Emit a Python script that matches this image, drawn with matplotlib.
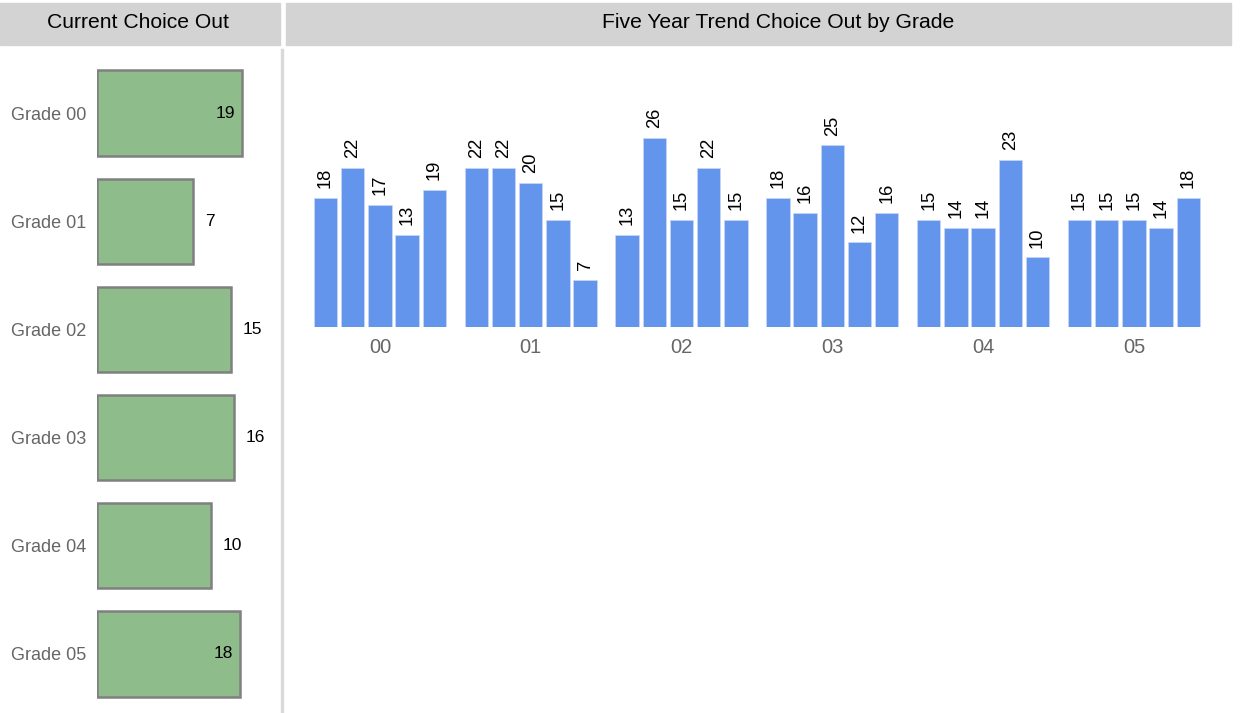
import matplotlib
matplotlib.use("Agg")
import matplotlib.pyplot as plt
from matplotlib.patches import Rectangle
from matplotlib.lines import Line2D
import numpy as np

plt.rcParams["font.family"] = ["Liberation Sans", "DejaVu Sans"]

# Data
grades = ["Grade 00", "Grade 01", "Grade 02", "Grade 03", "Grade 04", "Grade 05"]
current = [19, 7, 15, 16, 10, 18]

group_labels = ["00", "01", "02", "03", "04", "05"]
trend_00 = [18, 22, 17, 13, 19]
trend_01 = [22, 22, 20, 15, 7]
trend_02 = [13, 26, 15, 22, 15]
trend_03 = [18, 16, 25, 12, 16]
trend_04 = [15, 14, 14, 23, 10]
trend_05 = [15, 15, 15, 14, 18]
trend = [trend_00, trend_01, trend_02, trend_03, trend_04, trend_05]

W, H = 1245, 713
fig = plt.figure(figsize=(W / 100, H / 100), dpi=100)

def fx(px):
    return px / W

def fy(py):
    return 1 - py / H

# Header boxes
header_col = "#d3d3d3"
fig.patches.append(Rectangle((fx(0), fy(45)), fx(280), fy(3) - fy(45),
                             transform=fig.transFigure, color=header_col, zorder=0))
fig.patches.append(Rectangle((fx(286), fy(45)), fx(1231 - 286), fy(3) - fy(45),
                             transform=fig.transFigure, color=header_col, zorder=0))
fig.text(fx(138), fy(23), "Current Choice Out", ha="center", va="center", fontsize=15.2)
fig.text(fx(778), fy(23), "Five Year Trend Choice Out by Grade", ha="center", va="center", fontsize=15.2)

# Divider
fig.lines.append(Line2D([fx(282), fx(282)], [fy(50), 0], transform=fig.transFigure,
                        color="#d9d9d9", linewidth=2.4))

# Left panel: current choice out (log scale)
axl = fig.add_axes([fx(97), fy(708), fx(271 - 97), fy(59) - fy(708)])
y = np.arange(len(grades))
axl.barh(y, [v - 1 for v in current], left=1, height=0.79, color="#8fbc8b",
         edgecolor="#808080", linewidth=1.8)
axl.set_xscale("log")
axl.set_xlim(1, 34)
axl.set_ylim(len(grades) - 0.5, -0.5)
axl.set_yticks(y)
axl.set_yticklabels(grades, fontsize=13, color="#666666")
axl.tick_params(axis="y", length=0, pad=8)
axl.xaxis.set_major_locator(matplotlib.ticker.NullLocator())
axl.xaxis.set_minor_locator(matplotlib.ticker.NullLocator())
for s in axl.spines.values():
    s.set_visible(False)
for yi, v in zip(y, current):
    if v >= 18:
        axl.annotate(str(v), (v, yi), xytext=(-5, 0), textcoords="offset points",
                     ha="right", va="center", fontsize=12.5)
    else:
        axl.annotate(str(v), (v, yi), xytext=(8.5, 0), textcoords="offset points",
                     ha="left", va="center", fontsize=12.5)

# Right panel: five year trend
axr = fig.add_axes([fx(300), fy(327), fx(1215 - 300), fy(60) - fy(327)])
group_step = 5.544
offsets = np.arange(5) - 2
centers = np.arange(len(group_labels)) * group_step
for gc, vals in zip(centers, trend):
    xs = gc + offsets
    axr.bar(xs, vals, width=0.86, color="#6495ed", edgecolor="#c6d6f7", linewidth=0.6)
    for xv, v in zip(xs, vals):
        axr.annotate(str(v), (xv, v), xytext=(0, 7), textcoords="offset points",
                     ha="center", va="bottom", rotation=90, fontsize=13.2)
axr.set_xlim(-2.94, 30.7)
axr.set_ylim(0.7, 36.4)
axr.set_xticks(centers)
axr.set_xticklabels(group_labels, fontsize=14.5, color="#666666")
axr.tick_params(axis="x", length=0, pad=8)
axr.set_yticks([])
for s in axr.spines.values():
    s.set_visible(False)

fig.savefig("out.png", dpi=100)
